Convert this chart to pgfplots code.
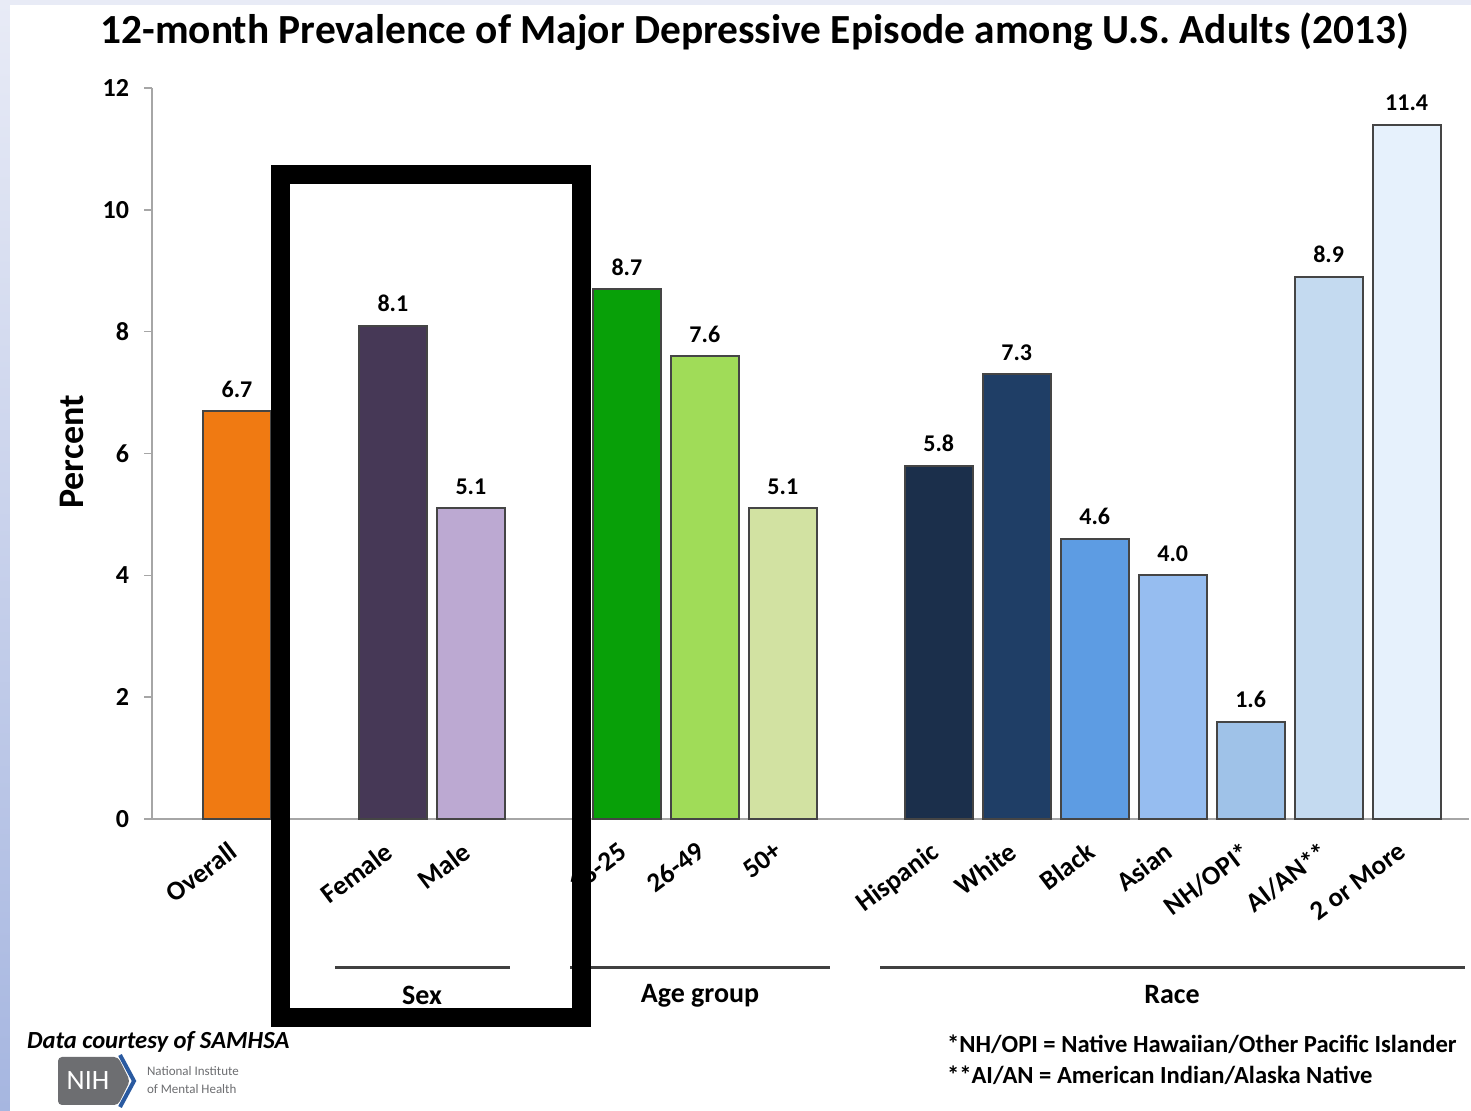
\documentclass[border=0pt]{standalone}
\usepackage{pgfplots}
\pgfplotsset{compat=1.18}
\usepackage{fontspec}
\setmainfont{Carlito}

\definecolor{cOverall}{HTML}{F07A12}
\definecolor{cFemale}{HTML}{463856}
\definecolor{cMale}{HTML}{BCA9D2}
\definecolor{cYoung}{HTML}{08A008}
\definecolor{cMid}{HTML}{A0DC58}
\definecolor{cOld}{HTML}{D2E2A2}
\definecolor{cHisp}{HTML}{1B2F4B}
\definecolor{cWhite}{HTML}{1F3E66}
\definecolor{cBlack}{HTML}{5D9CE3}
\definecolor{cAsian}{HTML}{96BDF0}
\definecolor{cNhopi}{HTML}{9FC2E8}
\definecolor{cAian}{HTML}{C4DAF0}
\definecolor{cMulti}{HTML}{E6F1FC}
\definecolor{barline}{HTML}{454545}
\definecolor{axisgray}{HTML}{A6A6A6}
\definecolor{nihgray}{HTML}{6D6E71}
\definecolor{nihblue}{HTML}{2A5AA0}
\definecolor{slidetop}{HTML}{E8EBF6}
\definecolor{slidebot}{HTML}{A6B6E0}

\begin{document}
\begin{tikzpicture}
% slide background, pixel coordinates from the top left
\begin{scope}[x=0.5pt,y=-0.5pt,shift={(0pt,555.5pt)}]
\shade[top color=slidetop, bottom color=slidebot] (0,0) rectangle (1471,1111);
\fill[slidetop] (0,0) rectangle (1471,5);
\fill[white] (10,5) rectangle (1471,1111);
\end{scope}

\begin{axis}[
    at={(76pt,146pt)}, anchor=south west,
    scale only axis, width=658.5pt, height=365.5pt,
    xmin=-1.09, xmax=15.8, ymin=0, ymax=12,
    axis x line=bottom, axis y line=left,
    axis line style={draw=axisgray, line width=0.8pt, -},
    ytick={0,2,...,12},
    xtick={0,2,3,5,6,7,9,10,11,12,13,14,15},
    xticklabels={Overall,Female,Male,18-25,26-49,50+,Hispanic,White,Black,Asian,NH/OPI*,AI/AN**,2 or More},
    x tick style={draw=none},
    y tick style={draw=axisgray, line width=0.8pt},
    tick align=outside, major tick length=4pt,
    /pgf/number format/assume math mode=true,
    yticklabel style={font=\bfseries\fontsize{13}{13}\selectfont, xshift=-4pt},
    xticklabel style={font=\bfseries\fontsize{13.5}{13.5}\selectfont, rotate=37, anchor=north east, xshift=-4.5pt, yshift=1pt},
    nodes near coords={\pgfmathprintnumber[fixed,fixed zerofill,precision=1]{\pgfplotspointmeta}},
    every node near coord/.append style={font=\bfseries\fontsize{12}{12}\selectfont, text=black, yshift=3pt},
    clip=false,
]
\addplot[ybar, bar width=34pt, bar shift=0pt, fill=cOverall, draw=barline, line width=1pt] coordinates {(0,6.7)};
\addplot[ybar, bar width=34pt, bar shift=0pt, fill=cFemale, draw=barline, line width=1pt] coordinates {(2,8.1)};
\addplot[ybar, bar width=34pt, bar shift=0pt, fill=cMale, draw=barline, line width=1pt] coordinates {(3,5.1)};
\addplot[ybar, bar width=34pt, bar shift=0pt, fill=cYoung, draw=barline, line width=1pt] coordinates {(5,8.7)};
\addplot[ybar, bar width=34pt, bar shift=0pt, fill=cMid, draw=barline, line width=1pt] coordinates {(6,7.6)};
\addplot[ybar, bar width=34pt, bar shift=0pt, fill=cOld, draw=barline, line width=1pt] coordinates {(7,5.1)};
\addplot[ybar, bar width=34pt, bar shift=0pt, fill=cHisp, draw=barline, line width=1pt] coordinates {(9,5.8)};
\addplot[ybar, bar width=34pt, bar shift=0pt, fill=cWhite, draw=barline, line width=1pt] coordinates {(10,7.3)};
\addplot[ybar, bar width=34pt, bar shift=0pt, fill=cBlack, draw=barline, line width=1pt] coordinates {(11,4.6)};
\addplot[ybar, bar width=34pt, bar shift=0pt, fill=cAsian, draw=barline, line width=1pt] coordinates {(12,4.0)};
\addplot[ybar, bar width=34pt, bar shift=0pt, fill=cNhopi, draw=barline, line width=1pt] coordinates {(13,1.6)};
\addplot[ybar, bar width=34pt, bar shift=0pt, fill=cAian, draw=barline, line width=1pt] coordinates {(14,8.9)};
\addplot[ybar, bar width=34pt, bar shift=0pt, fill=cMulti, draw=barline, line width=1pt] coordinates {(15,11.4)};
\end{axis}

\begin{scope}[x=0.5pt,y=-0.5pt,shift={(0pt,555.5pt)}]
% title and y label
\node[font=\bfseries\fontsize{20.7}{20.7}\selectfont] at (755,32) {12-month Prevalence of Major Depressive Episode among U.S. Adults (2013)};
\node[rotate=90, font=\bfseries\fontsize{18}{18}\selectfont] at (72,452) {Percent};
% group brackets
\draw[line width=1.5pt, black!75] (335,968) -- (510,968);
\draw[line width=1.5pt, black!75] (570,968) -- (830,968);
\draw[line width=1.5pt, black!75] (880,968) -- (1465,968);
\node[font=\bfseries\fontsize{14}{14}\selectfont] at (422,995) {Sex};
\node[font=\bfseries\fontsize{14}{14}\selectfont] at (700,996) {Age group};
\node[font=\bfseries\fontsize{14}{14}\selectfont] at (1172,995) {Race};
% footnotes
\node[anchor=west, font=\bfseries\itshape\fontsize{12.3}{12.3}\selectfont] at (20,1042) {Data courtesy of SAMHSA};
\node[anchor=west, font=\bfseries\fontsize{12.3}{12.3}\selectfont] at (940,1044) {*NH/OPI = Native Hawaiian/Other Pacific Islander};
\node[anchor=west, font=\bfseries\fontsize{12.3}{12.3}\selectfont] at (940,1075) {**AI/AN = American Indian/Alaska Native};
% NIH logo
\fill[nihgray, rounded corners=2pt] (58,1057) -- (118,1057) -- (130,1081) -- (118,1105) -- (58,1105) -- cycle;
\draw[nihblue, line width=2pt] (120,1055) -- (134,1081) -- (120,1107);
\node[text=white, font=\fontsize{14}{14}\selectfont] at (88,1081) {NIH};
\node[anchor=west, text=nihgray, font=\fontsize{6.5}{6.5}\selectfont] at (140,1071) {National Institute};
\node[anchor=west, text=nihgray, font=\fontsize{6.5}{6.5}\selectfont] at (140,1089) {of Mental Health};
% highlight box
\draw[black, line width=9.5pt] (280.5,174.5) rectangle (581.5,1017.5);
\end{scope}
\pgfresetboundingbox
\useasboundingbox (0pt,0pt) rectangle (735.5pt,555.5pt);
\end{tikzpicture}
\end{document}
